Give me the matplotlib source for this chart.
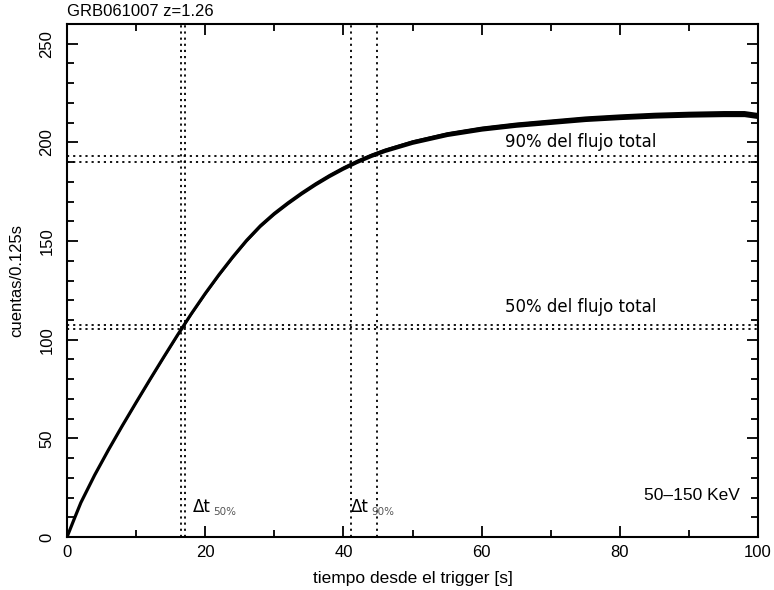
import matplotlib
matplotlib.use("Agg")
import matplotlib.pyplot as plt
import numpy as np
from matplotlib.ticker import MultipleLocator

# Data
t = [0, 1, 2, 4, 6, 8, 10, 12, 14, 16, 18, 20, 22, 24, 26, 28, 30, 32, 34, 36,
     38, 40, 42, 44, 46, 50, 55, 60, 65, 70, 75, 80, 85, 90, 95, 98, 100]
counts = [0, 8.8, 17.4, 31.4, 44.2, 56.4, 68.2, 79.8, 91.2, 102.4, 113.2, 123.4,
          133.0, 142.0, 150.4, 157.8, 164.0, 169.4, 174.4, 179.0, 183.2, 187.0,
          190.4, 193.4, 196.0, 200.2, 204.2, 207.0, 209.0, 210.5, 212.0, 213.0,
          213.8, 214.3, 214.6, 214.6, 213.6]
err = [0, 0.1, 0.15, 0.25, 0.3, 0.35, 0.4, 0.45, 0.5, 0.55, 0.6, 0.65, 0.7, 0.75,
       0.8, 0.85, 0.9, 0.92, 0.95, 0.98, 1.0, 1.03, 1.06, 1.1, 1.12, 1.18, 1.24,
       1.3, 1.35, 1.4, 1.43, 1.46, 1.5, 1.52, 1.55, 1.55, 1.55]

flux_levels = [105.6, 107.6, 190.0, 193.3]
time_marks = [16.5, 17.1, 41.1, 44.8]

title = "GRB061007 z=1.26"
xlabel = "tiempo desde el trigger [s]"
ylabel = "cuentas/0.125s"

helv = ["Liberation Sans", "DejaVu Sans"]

fig = plt.figure(figsize=(7.74, 5.90), dpi=100)
ax = fig.add_axes([0.0866, 0.0898, 0.8927, 0.8695])

lo = np.array(counts) - np.array(err)
hi = np.array(counts) + np.array(err)
ax.fill_between(t, lo, hi, color="black", lw=0, zorder=3)
ax.plot(t, counts, color="black", lw=2.3, zorder=4, solid_capstyle="butt",
        solid_joinstyle="round")

for v in flux_levels:
    ax.axhline(v, color="black", ls=(0, (1.2, 2.2)), lw=1.3, zorder=2)
for v in time_marks:
    ax.axvline(v, color="black", ls=(0, (1.2, 2.2)), lw=1.3, zorder=2)

ax.set_xlim(0, 100)
ax.set_ylim(0, 260)
ax.xaxis.set_major_locator(MultipleLocator(20))
ax.xaxis.set_minor_locator(MultipleLocator(10))
ax.yaxis.set_major_locator(MultipleLocator(50))
ax.yaxis.set_minor_locator(MultipleLocator(10))
ax.tick_params(which="both", direction="in", top=True, right=True, width=1.3)
ax.tick_params(which="major", length=8, labelsize=12)
ax.tick_params(axis="x", which="major", pad=6)
ax.tick_params(axis="y", which="major", pad=9)
ax.tick_params(which="minor", length=5)
for lab in ax.get_yticklabels():
    lab.set_rotation(90)
    lab.set_va("center")
for lab in ax.get_xticklabels() + ax.get_yticklabels():
    lab.set_family(helv)
for s in ax.spines.values():
    s.set_linewidth(1.5)

ax.set_xlabel(xlabel, family=helv, fontsize=12.5, labelpad=8)
ax.set_ylabel(ylabel, family=helv, fontsize=12, labelpad=11)
fig.text(0.0866, 0.968, title, family=helv, fontsize=12, ha="left", va="bottom")

ax.text(74.4, 200, "90% del flujo total", fontsize=12, ha="center", va="center")
ax.text(74.4, 116.5, "50% del flujo total", fontsize=12, ha="center", va="center")
ax.text(18.2, 15.2, "\u0394t", fontsize=12, ha="left", va="center")
ax.text(21.1, 12.9, "50%", fontsize=7.5, ha="left", va="center", color="#555555")
ax.text(41.1, 15.2, "\u0394t", fontsize=12, ha="left", va="center")
ax.text(44.1, 12.9, "90%", fontsize=7.5, ha="left", va="center", color="#555555")
ax.text(97.4, 21, "50\u2013150 KeV", fontsize=12.5, ha="right", va="center", family=helv)

fig.savefig("out.png", dpi=100)
